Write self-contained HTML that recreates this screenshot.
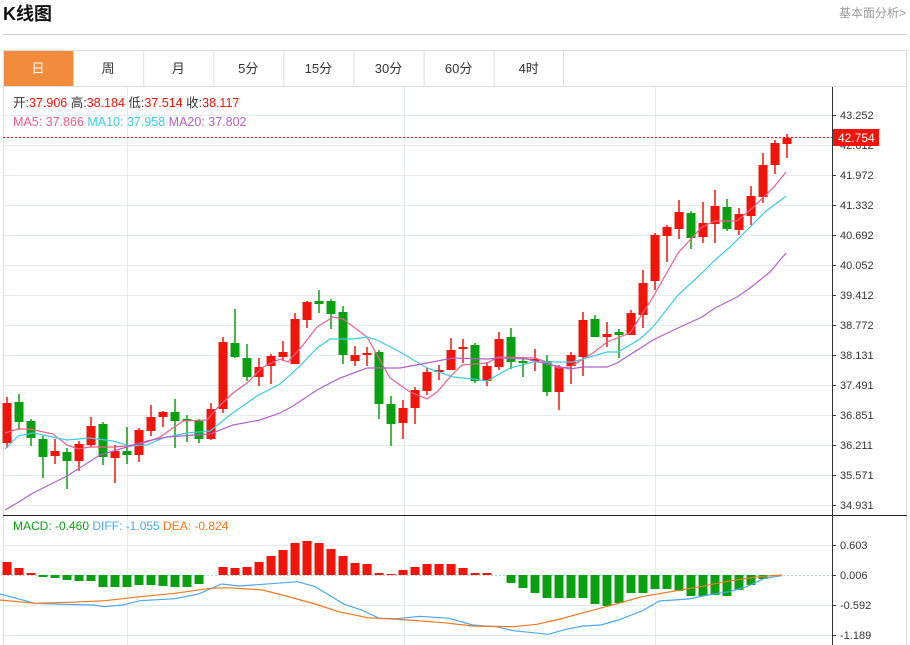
<!DOCTYPE html>
<html><head><meta charset="utf-8"><style>
body{margin:0;background:#fff;width:910px;height:645px;overflow:hidden;font-family:"Liberation Sans","Noto Sans CJK SC",sans-serif}
</style></head><body>
<svg id="s" width="910" height="645" xmlns="http://www.w3.org/2000/svg" style="position:absolute;left:0;top:0" font-family="Liberation Sans, Noto Sans CJK SC, sans-serif">
<text x="3" y="20" font-size="18" font-weight="bold" fill="#111">K线图</text>
<text x="906" y="17" font-size="12" fill="#999" text-anchor="end">基本面分析&gt;</text>
<line x1="3" y1="34.5" x2="906" y2="34.5" stroke="#ccc"/>
<rect x="3.5" y="50.5" width="903" height="600" fill="none" stroke="#ddd"/>
<line x1="3" y1="86.5" x2="906" y2="86.5" stroke="#ddd"/>
<rect x="4" y="51" width="69" height="35" fill="#f28b3c"/>
<g id="tabs" font-size="13" fill="#333" text-anchor="middle"></g>
<g id="grid"></g>
<g id="c"></g>
</svg>
<script>
var S=document.getElementById('s');
function el(t,a,p,txt){var e=document.createElementNS('http://www.w3.org/2000/svg',t);for(var k in a)e.setAttribute(k,a[k]);if(txt!=null)e.textContent=txt;(p||S).appendChild(e);return e;}
var tabs=['日','周','月','5分','15分','30分','60分','4时'];
var T=document.getElementById('tabs');
for(var i=0;i<8;i++){var x=3+i*70.1;if(i>0)el('line',{x1:x+0.5,y1:51,x2:x+0.5,y2:86,stroke:'#ddd'});el('text',{x:x+35,y:73,fill:i==0?'#fff':'#333'},T,tabs[i]);}
el('line',{x1:563.5,y1:51,x2:563.5,y2:86,stroke:'#ddd'});
var G=document.getElementById('grid');
var labs=['43.252','42.612','41.972','41.332','40.692','40.052','39.412','38.772','38.131','37.491','36.851','36.211','35.571','34.931'];
for(var i=0;i<14;i++){var y=115+i*30;el('line',{x1:3,y1:y+.5,x2:832,y2:y+.5,stroke:'#e4eaf0'},G);el('line',{x1:832,y1:y+.5,x2:836,y2:y+.5,stroke:'#333'},G);el('text',{x:840,y:y+4,'font-size':11,fill:'#333'},G,labs[i]);}
[[545,'0.603'],[575,'0.006'],[605,'-0.592'],[635,'-1.189']].forEach(function(a){if(a[0]!=575)el('line',{x1:3,y1:a[0]+.5,x2:832,y2:a[0]+.5,stroke:'#e4eaf0'},G);else el('line',{x1:3,y1:575.5,x2:832,y2:575.5,stroke:'#a8d8e8','stroke-dasharray':'2,2'},G);el('line',{x1:832,y1:a[0]+.5,x2:836,y2:a[0]+.5,stroke:'#333'},G);el('text',{x:840,y:a[0]+4,'font-size':11,fill:'#333'},G,a[1]);});
[127,404,655].forEach(function(x){el('line',{x1:x+.5,y1:87,x2:x+.5,y2:645,stroke:'#e4eaf0'},G);});
el('line',{x1:3,y1:515.5,x2:907,y2:515.5,stroke:'#222'},G);
el('line',{x1:832.5,y1:87,x2:832.5,y2:645,stroke:'#333'},G);
var C=document.getElementById('c');
var K=[['R',403,443,397,448],['G',402,422,394,430],['G',421,438,419,446],['G',439,457,436,478],['R',451,456,439,464],['G',452,461,448,489],['R',444,461,441,471],['R',426,445,417,447],['G',424,457,422,465],['R',451,458,445,483],['G',451,455,427,464],['R',430,455,428,462],['R',417,431,405,436],['R',412,417,411,427],['G',412,421,399,448],['G',419,421,415,442],['G',421,439,419,443],['R',409,439,403,440],['R',342,409,337,413],['G',343,357,309,358],['G',358,377,344,381],['R',367,377,358,386],['R',356,366,354,384],['R',352,357,341,361],['R',319,364,313,364],['R',302,320,301,328],['G',301,304,290,313],['G',301,314,299,329],['G',312,355,306,364],['R',355,361,346,366],['R',353,355,347,366],['G',352,404,350,419],['G',404,424,396,446],['R',408,423,400,439],['R',390,408,387,424],['R',372,391,368,395],['R',370,372,365,380],['R',350,370,338,370],['R',347,349,339,363],['G',345,381,343,383],['R',366,381,362,386],['R',339,367,332,370],['G',337,362,328,369],['G',361,363,357,377],['R',359,361,349,371],['G',361,392,355,396],['R',367,392,365,410],['R',355,366,352,384],['R',320,357,312,376],['G',319,337,315,337],['R',334,337,322,347],['G',332,335,329,358],['R',313,335,310,335],['R',283,315,270,328],['R',235,281,233,290],['R',227,236,225,262],['R',212,229,200,239],['G',213,238,211,249],['R',223,237,202,243],['R',206,224,190,243],['G',207,229,199,231],['R',214,230,208,235],['R',196,216,186,225],['R',165,197,153,203],['R',143,165,140,174],['R',138,144,134,158]];
K.forEach(function(k,i){var x=7+12*i,c=k[0]=='R'?'#f0140a':'#08a010';el('line',{x1:x,y1:k[3],x2:x,y2:k[4],stroke:c,'stroke-width':1.5},C);el('rect',{x:x-4.5,y:k[1],width:9,height:Math.max(2,k[2]-k[1]),fill:c},C);});
function pl(p,c,w){el('polyline',{points:p,fill:'none',stroke:c,'stroke-width':w||1.2},C);}
pl('5,433 18,429 30,429 53,434 67,445 78,449 90,447 113,447 127,446 147,442 160,437 183,421 207,420 217,408 233,393 247,383 263,367 280,359 288,362 303,345 317,327 333,317 343,319 367,337 390,378 410,392 427,399 437,392 450,377 462,365 487,363 498,357 535,358 547,362 558,368 570,367 593,353 607,342 630,333 653,297 678,253 702,227 715,221 737,221 750,210 773,188 786,172','#ec5f8c');
pl('5,449 18,436 33,433 67,440 90,438 113,441 130,446 147,445 163,438 187,433 210,431 230,415 257,396 280,384 300,366 317,348 330,339 353,339 367,337 377,340 400,352 427,368 453,377 473,379 487,381 510,368 533,362 573,362 607,352 618,352 640,339 653,327 678,295 702,273 715,260 730,247 750,227 765,212 786,196','#3ccbe0');
pl('5,510 22,500 33,493 67,476 100,455 127,447 147,441 167,437 210,434 233,425 260,420 280,413 293,406 317,390 340,378 367,368 400,368 427,363 453,358 487,359 500,358 527,359 543,363 570,369 583,367 607,367 617,363 653,340 678,328 702,317 715,308 737,297 750,288 770,272 786,253','#b060c8');
el('line',{x1:3,y1:137.5,x2:832,y2:137.5,stroke:'#f0140a','stroke-dasharray':'2,2'},C);
el('rect',{x:833,y:129,width:46,height:17,fill:'#f0140a'},C);
el('text',{x:838,y:142,'font-size':12,fill:'#fff'},C,'42.754');
var M=[562,568,573,577,578,580,581,581,587,587,587,585,585,586,587,587,584,575,567,568,567,562,556,550,543,541,543,549,556,563,564,573,574,570,567,564,564,564,568,573,573,575,583,588,593,598,598,598,598,604,606,603,593,593,589,589,591,596,596,595,596,590,585,579,576,575];
M.forEach(function(v,i){var x=7+12*i;var h=Math.abs(v-575);if(h<1)return;el('rect',{x:x-4.5,y:Math.min(v,575),width:9,height:h,fill:v<575?'#f0140a':'#08a010'},C);});
function mp(a,c){var s=[];for(var i=0;i<a.length;i+=2)s.push((a[i]/1.714).toFixed(1)+','+(510+a[i+1]/3).toFixed(1));pl(s.join(' '),c);}
mp([0,252,60,280,110,283,160,285,180,290,210,285,240,272,300,266,340,252,380,222,410,228,450,223,510,215,540,230,590,283,620,300,650,325,680,326,720,319,770,325,810,345,850,350,880,362,940,373,970,358,1000,348,1030,345,1060,330,1100,303,1130,273,1180,267,1220,253,1250,245,1280,230,1310,205,1340,197],'#4aa8f0');
mp([0,270,60,280,120,277,180,272,240,260,300,250,360,235,390,233,450,240,490,258,540,282,580,305,630,323,700,330,760,338,810,348,880,350,920,343,960,327,1000,308,1060,280,1100,260,1150,245,1200,230,1250,213,1300,200,1340,195],'#f07820');
var t1=el('text',{x:13,y:107,'font-size':12.5,fill:'#333'},C);
[['开:','#333'],['37.906','#f0140a'],['  高:','#333'],['38.184','#f0140a'],['  低:','#333'],['37.514','#f0140a'],['  收:','#333'],['38.117','#f0140a']].forEach(function(a){el('tspan',{fill:a[1],'xml:space':'preserve'},t1,a[0]);});
t1.setAttribute('xml:space','preserve');
var t2=el('text',{x:13,y:126,'font-size':12.5},C);t2.setAttribute('xml:space','preserve');
[['MA5: 37.866  ','#ec5f8c'],['MA10: 37.958  ','#3ccbe0'],['MA20: 37.802','#b060c8']].forEach(function(a){el('tspan',{fill:a[1]},t2,a[0]);});
var t3=el('text',{x:13,y:530,'font-size':12},C);t3.setAttribute('xml:space','preserve');
[['MACD: -0.460  ','#08a010'],['DIFF: -1.055  ','#4aa8f0'],['DEA: -0.824','#f07820']].forEach(function(a){el('tspan',{fill:a[1]},t3,a[0]);});
</script>
</body></html>
